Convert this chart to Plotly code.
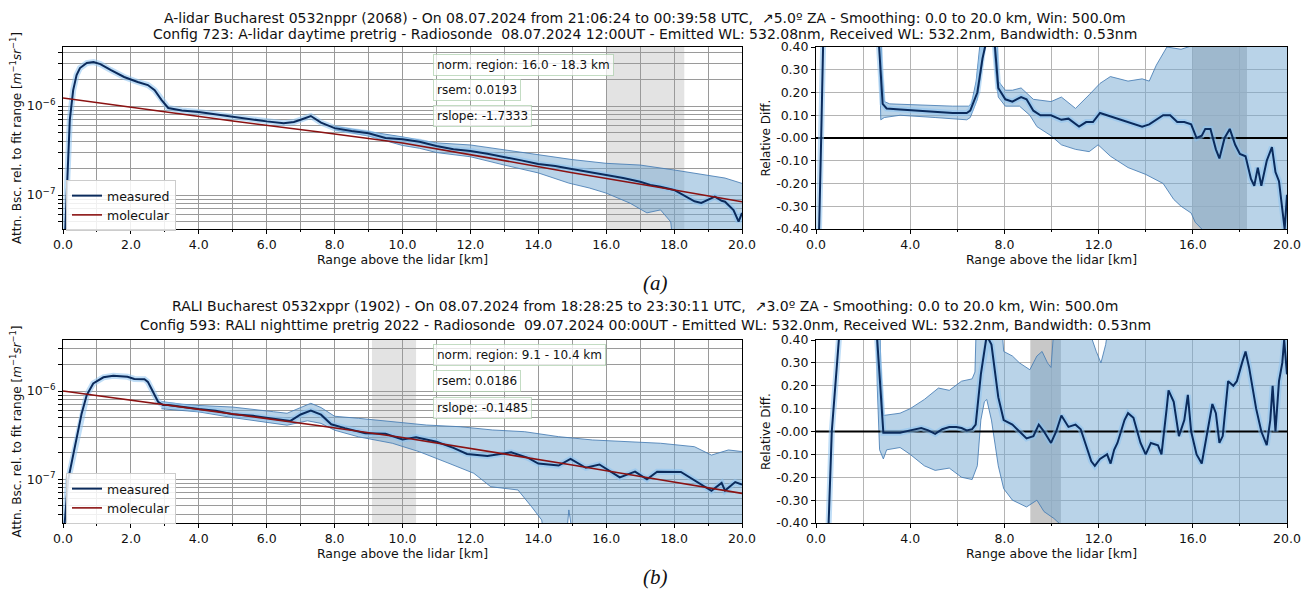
import plotly.graph_objects as go

# ---------------- data ----------------
# panel (a) left: attenuated backscatter [m-1 sr-1] vs range [km]
meas_a = [(0.0, 1.0e-8), (0.1, 8.8e-8), (0.2, 6.97e-7), (0.3, 1.51e-6), (0.4, 2.23e-6), (0.5, 2.67e-6),
          (0.7, 3.04e-6), (0.9, 3.12e-6), (1.1, 2.96e-6), (1.4, 2.54e-6), (1.8, 2.12e-6), (2.2, 1.86e-6),
          (2.5, 1.72e-6), (2.7, 1.51e-6), (2.9, 1.17e-6), (3.1, 9.5e-7), (3.5, 8.9e-7), (4.0, 8.55e-7),
          (5.0, 7.55e-7), (6.0, 6.72e-7), (6.5, 6.4e-7), (6.8, 6.6e-7), (7.0, 7.0e-7), (7.3, 7.72e-7),
          (7.6, 6.5e-7), (8.0, 5.64e-7), (8.5, 5.24e-7), (8.8, 5.1e-7), (9.0, 4.94e-7), (9.5, 4.37e-7),
          (10.0, 4.22e-7), (10.5, 3.97e-7), (11.0, 3.55e-7), (11.5, 3.26e-7), (12.0, 3.12e-7), (12.5, 2.9e-7),
          (13.0, 2.69e-7), (13.5, 2.45e-7), (14.0, 2.23e-7), (14.5, 2.12e-7), (14.9, 1.99e-7), (15.5, 1.83e-7),
          (16.0, 1.68e-7), (16.5, 1.55e-7), (17.0, 1.41e-7), (17.3, 1.30e-7), (17.6, 1.24e-7), (18.0, 1.14e-7),
          (18.4, 9.25e-8), (18.6, 8.5e-8), (18.8, 8.13e-8), (19.0, 8.8e-8), (19.2, 9.57e-8), (19.4, 8.6e-8),
          (19.5, 8.41e-8), (19.75, 6.78e-8), (19.9, 5.01e-8), (20.0, 6.28e-8)]
mol_a = [(0.0, 1.23e-6), (2.5, 9.12e-7), (5.0, 6.78e-7), (7.5, 5.13e-7), (10.0, 3.84e-7),
         (12.5, 2.63e-7), (15.0, 1.78e-7), (17.5, 1.23e-7), (20.0, 8.41e-8)]
band_up_a = [(8.0, 5.9e-7), (9.0, 5.2e-7), (10.0, 4.5e-7), (10.5, 4.15e-7), (11.0, 3.85e-7), (12.0, 3.65e-7),
             (13.0, 3.2e-7), (14.0, 2.81e-7), (15.0, 2.5e-7), (16.0, 2.27e-7), (17.0, 2.17e-7), (18.0, 1.91e-7),
             (19.0, 1.68e-7), (19.5, 1.55e-7), (20.0, 1.35e-7)]
band_lo_a = [(8.0, 5.4e-7), (9.0, 4.6e-7), (10.0, 3.6e-7), (10.5, 3.35e-7), (11.0, 3.0e-7), (12.0, 2.69e-7),
             (13.0, 2.17e-7), (14.0, 1.77e-7), (14.9, 1.36e-7), (15.5, 1.2e-7), (16.0, 1.05e-7), (16.7, 8.1e-8),
             (17.2, 6.3e-8), (17.6, 6.8e-8), (17.9, 5.0e-8), (18.1, 1.0e-8), (20.0, 1.0e-8)]

# panel (a) right: relative difference
rd_a = [(0.0, -1.0), (0.15, -0.40), (0.22, 0.0), (0.3, 0.40), (0.45, 1.5), (2.6, 1.5), (2.68, 0.40), (2.83, 0.15),
        (3.0, 0.13), (3.57, 0.125), (4.32, 0.12), (5.06, 0.113), (5.8, 0.11), (6.4, 0.11), (6.55, 0.12),
        (6.85, 0.20), (7.07, 0.35), (7.18, 0.40), (7.35, 0.6), (7.6, 0.40), (7.74, 0.22), (8.04, 0.17),
        (8.34, 0.16), (8.71, 0.18), (8.94, 0.17), (9.23, 0.12), (9.53, 0.10), (9.98, 0.10), (10.42, 0.08),
        (10.72, 0.085), (11.02, 0.06), (11.17, 0.05), (11.47, 0.07), (11.76, 0.07), (12.06, 0.11), (12.36, 0.10),
        (12.66, 0.09), (12.96, 0.08), (13.25, 0.07), (13.55, 0.06), (13.85, 0.05), (14.15, 0.06), (14.45, 0.08),
        (14.74, 0.10), (15.04, 0.10), (15.34, 0.07), (15.64, 0.07), (15.93, 0.06), (16.16, 0.0), (16.38, 0.01),
        (16.53, 0.04), (16.75, 0.04), (16.98, -0.05), (17.13, -0.09), (17.35, 0.0), (17.57, 0.04), (17.8, -0.03),
        (18.0, -0.07), (18.24, -0.08), (18.47, -0.18), (18.61, -0.21), (18.76, -0.13), (18.91, -0.21),
        (19.14, -0.10), (19.36, -0.04), (19.51, -0.15), (19.66, -0.19), (19.8, -0.30), (19.9, -0.40), (20.0, -0.25)]
rd_up_a = [(2.6, 1.5), (2.7, 1.0), (2.8, 0.30), (2.9, 0.16), (3.13, 0.15), (4.32, 0.145), (5.8, 0.14),
           (6.48, 0.14), (6.6, 0.15), (6.8, 0.25), (7.0, 0.45), (7.2, 1.0), (7.6, 1.0), (7.74, 0.25),
           (8.04, 0.21), (8.34, 0.21), (8.71, 0.22), (9.23, 0.17), (9.98, 0.16), (10.42, 0.18), (11.02, 0.13),
           (11.6, 0.19), (12.06, 0.24), (12.5, 0.27), (13.25, 0.25), (13.85, 0.26), (14.15, 0.25), (14.45, 0.32),
           (14.9, 0.40), (15.5, 0.39), (16.1, 0.41), (16.5, 0.6), (20.0, 1.0)]
rd_lo_a = [(2.6, 1.0), (2.7, 0.30), (2.75, 0.08), (2.9, 0.09), (3.57, 0.10), (5.06, 0.09), (6.4, 0.08),
           (6.55, 0.09), (6.85, 0.17), (7.07, 0.33), (7.25, 0.5), (7.5, 0.5), (7.62, 0.30), (7.74, 0.18),
           (8.04, 0.14), (8.64, 0.14), (9.08, 0.10), (9.38, 0.05), (9.98, 0.01), (10.42, -0.03), (11.02, -0.05),
           (11.6, -0.06), (11.98, -0.03), (12.5, -0.08), (13.25, -0.13), (14.0, -0.16), (14.74, -0.20),
           (15.19, -0.27), (15.5, -0.30), (15.93, -0.33), (16.1, -0.37), (16.38, -0.40), (16.6, -0.6), (20.0, -1.0)]

# panel (b) left
meas_b = [(0.0, 1.0e-8), (0.05, 3.2e-8), (0.15, 9.8e-8), (0.4, 2.79e-7), (0.55, 5.58e-7), (0.7, 9.0e-7),
          (0.89, 1.22e-6), (1.19, 1.43e-6), (1.48, 1.49e-6), (1.9, 1.45e-6), (2.1, 1.37e-6), (2.4, 1.36e-6),
          (2.5, 1.27e-6), (2.65, 9.8e-7), (2.8, 7.56e-7), (2.95, 6.94e-7), (3.1, 6.93e-7), (4.0, 6.24e-7),
          (4.5, 5.97e-7), (5.0, 5.47e-7), (5.6, 5.24e-7), (6.2, 4.85e-7), (6.7, 4.59e-7), (7.0, 5.42e-7),
          (7.3, 6.0e-7), (7.6, 5.4e-7), (7.9, 4.2e-7), (8.3, 3.8e-7), (8.9, 3.33e-7), (9.5, 3.28e-7),
          (10.0, 2.83e-7), (10.4, 3.0e-7), (11.0, 2.66e-7), (11.5, 2.27e-7), (11.9, 1.94e-7), (12.5, 1.84e-7),
          (13.2, 2.02e-7), (13.7, 1.75e-7), (14.0, 1.51e-7), (14.6, 1.43e-7), (14.95, 1.7e-7), (15.4, 1.35e-7),
          (15.8, 1.47e-7), (16.4, 1.05e-7), (16.85, 1.22e-7), (17.2, 1.0e-7), (17.5, 1.22e-7), (18.2, 1.21e-7),
          (18.7, 9.2e-8), (19.1, 7.4e-8), (19.4, 9.1e-8), (19.5, 7.45e-8), (19.8, 9.3e-8), (20.0, 8.7e-8)]
mol_b = [(0.0, 1.0e-6), (2.5, 7.45e-7), (5.0, 5.53e-7), (7.5, 4.07e-7), (10.0, 2.98e-7),
         (12.5, 2.09e-7), (15.0, 1.45e-7), (17.5, 1.0e-7), (20.0, 6.93e-8)]
band_up_b = [(2.9, 7.6e-7), (3.5, 7.1e-7), (4.0, 6.86e-7), (5.0, 6.58e-7), (6.2, 5.83e-7), (6.6, 5.6e-7),
             (7.0, 6.5e-7), (7.3, 7.26e-7), (7.6, 6.5e-7), (8.0, 5.18e-7), (8.7, 4.91e-7), (9.7, 4.49e-7),
             (10.7, 4.12e-7), (11.7, 3.94e-7), (12.65, 3.62e-7), (13.6, 3.46e-7), (14.6, 3.04e-7), (15.6, 2.79e-7),
             (16.6, 2.67e-7), (17.6, 2.56e-7), (18.6, 2.34e-7), (19.1, 1.88e-7), (19.6, 2.15e-7), (20.0, 2.06e-7)]
band_lo_b = [(2.9, 6.3e-7), (4.0, 5.8e-7), (5.0, 5.0e-7), (6.0, 4.4e-7), (6.6, 4.1e-7), (7.2, 4.6e-7),
             (7.6, 4.3e-7), (8.0, 3.6e-7), (8.7, 3.03e-7), (9.7, 2.56e-7), (10.5, 2.05e-7), (11.4, 1.5e-7),
             (12.1, 1.17e-7), (12.6, 8.24e-8), (13.4, 7.57e-8), (13.8, 4.9e-8), (14.1, 3.46e-8), (14.3, 1.0e-8),
             (14.75, 1.0e-8), (14.9, 4.5e-8), (15.15, 1.0e-8), (20.0, 1.0e-8)]

# panel (b) right
rd_b = [(0.0, -2.0), (0.52, -0.40), (0.67, 0.0), (0.97, 0.40), (1.2, 2.0), (2.4, 2.0), (2.6, 0.40), (2.86, -0.005),
        (3.57, -0.005), (4.0, 0.005), (4.47, 0.015), (4.77, 0.005), (5.06, -0.01), (5.36, 0.01), (5.66, 0.02),
        (5.96, 0.02), (6.18, 0.015), (6.4, 0.005), (6.63, 0.01), (6.78, 0.03), (7.0, 0.25), (7.22, 0.40),
        (7.3, 0.41), (7.45, 0.38), (7.74, 0.15), (7.97, 0.05), (8.34, 0.03), (8.64, 0.0), (8.94, -0.03),
        (9.23, -0.02), (9.46, 0.03), (9.68, 0.0), (9.98, -0.05), (10.2, 0.0), (10.42, 0.07), (10.72, 0.02),
        (11.02, 0.03), (11.24, 0.01), (11.47, -0.06), (11.69, -0.13), (11.84, -0.15), (12.06, -0.12),
        (12.36, -0.10), (12.51, -0.14), (12.66, -0.08), (12.8, -0.05), (13.1, 0.05), (13.25, 0.08), (13.48, 0.06),
        (13.63, 0.0), (13.78, -0.05), (14.0, -0.10), (14.22, -0.05), (14.52, -0.06), (14.67, -0.10), (14.89, 0.10),
        (14.97, 0.18), (15.19, 0.13), (15.41, -0.02), (15.64, 0.05), (15.79, 0.16), (15.93, 0.0), (16.16, -0.10),
        (16.38, -0.14), (16.6, -0.02), (16.83, 0.12), (16.98, 0.08), (17.13, -0.05), (17.27, -0.02), (17.5, 0.22),
        (17.72, 0.20), (17.87, 0.22), (18.09, 0.30), (18.24, 0.35), (18.39, 0.28), (18.54, 0.18), (18.69, 0.10),
        (18.91, 0.0), (19.14, -0.06), (19.29, 0.05), (19.39, 0.20), (19.51, 0.0), (19.66, 0.22), (19.8, 0.30),
        (19.88, 0.40), (20.0, 0.25)]
rd_up_b = [(2.45, 2.0), (2.6, 1.0), (2.75, 0.3), (2.86, 0.07), (3.57, 0.08), (4.0, 0.10), (4.6, 0.14), (5.2, 0.19),
           (5.66, 0.18), (6.18, 0.22), (6.63, 0.23), (6.75, 0.26), (6.8, 0.45), (7.9, 0.45), (7.97, 0.35),
           (8.34, 0.33), (8.64, 0.30), (9.08, 0.27), (9.38, 0.33), (9.6, 0.35), (9.83, 0.30), (9.98, 0.28),
           (10.1, 0.45), (11.7, 0.41), (11.9, 0.35), (12.1, 0.30), (12.3, 0.38), (12.4, 0.45), (20.0, 1.0)]
rd_lo_b = [(2.45, 1.5), (2.6, 0.2), (2.7, -0.08), (2.86, -0.12), (3.0, -0.08), (3.57, -0.07), (4.0, -0.10),
           (4.6, -0.15), (5.06, -0.17), (5.66, -0.16), (6.18, -0.20), (6.63, -0.21), (6.85, -0.15), (7.0, 0.05),
           (7.15, 0.13), (7.25, 0.14), (7.45, 0.05), (7.74, -0.15), (7.97, -0.25), (8.34, -0.30), (8.94, -0.33),
           (9.38, -0.30), (9.68, -0.35), (10.1, -0.38), (10.42, -0.41), (10.6, -0.6), (20.0, -1.0)]

norm_a = [16.0, 18.3]
norm_b = [9.1, 10.4]
zero_ref = [(0.0, 0.0), (20.0, 0.0)]

x_major_left = [0, 2, 4, 6, 8, 10, 12, 14, 16, 18, 20]
x_major_right = [0, 4, 8, 12, 16, 20]
rd_ticks = [-0.4, -0.3, -0.2, -0.1, 0.0, 0.1, 0.2, 0.3, 0.4]
rd_ticktext = ["-0.40", "-0.30", "-0.20", "-0.10", "-0.00", "0.10", "0.20", "0.30", "0.40"]
decades = [-8, -7, -6]
labelled_decades = [-7, -6]

titles_a = ["A-lidar Bucharest 0532nppr (2068) - On 08.07.2024 from 21:06:24 to 00:39:58 UTC,  \u21975.0\u00ba ZA - Smoothing: 0.0 to 20.0 km, Win: 500.0m",
            "Config 723: A-lidar daytime pretrig - Radiosonde  08.07.2024 12:00UT - Emitted WL: 532.08nm, Received WL: 532.2nm, Bandwidth: 0.53nm"]
titles_b = ["RALI Bucharest 0532xppr (1902) - On 08.07.2024 from 18:28:25 to 23:30:11 UTC,  \u21973.0\u00ba ZA - Smoothing: 0.0 to 20.0 km, Win: 500.0m",
            "Config 593: RALI nighttime pretrig 2022 - Radiosonde  09.07.2024 00:00UT - Emitted WL: 532.0nm, Received WL: 532.2nm, Bandwidth: 0.53nm"]
info_a = ["norm. region: 16.0 - 18.3 km", "rsem: 0.0193", "rslope: -1.7333"]
info_b = ["norm. region: 9.1 - 10.4 km", "rsem: 0.0186", "rslope: -0.1485"]

# ---------------- styling ----------------
W, H = 1310, 592
OFF = 8  # page body margin of the browser
FONT = "DejaVu Sans"
C_MEAS = "#0b2b5c"
C_GLOW = "rgba(140,195,240,0.55)"
C_MOL = "#8b1212"
C_FILL = "rgba(115,167,209,0.5)"
C_EDGE = "rgba(70,125,180,0.85)"


def px(p):
    return (p - OFF) / W


def py(p):
    return 1 - (p - OFF) / H


def xs(pairs):
    return [p[0] for p in pairs]


def ys(pairs):
    return [p[1] for p in pairs]


fig = go.Figure()


def add_band(up, lo, xa, ya):
    fig.add_trace(go.Scatter(x=xs(up) + xs(lo)[::-1], y=ys(up) + ys(lo)[::-1], fill="toself",
                             fillcolor=C_FILL, line=dict(width=0), mode="lines", showlegend=False,
                             hoverinfo="skip", xaxis=xa, yaxis=ya))
    for s in (up, lo):
        fig.add_trace(go.Scatter(x=xs(s), y=ys(s), mode="lines", line=dict(color=C_EDGE, width=1),
                                 showlegend=False, hoverinfo="skip", xaxis=xa, yaxis=ya))


def add_meas(s, xa, ya, legend=None):
    fig.add_trace(go.Scatter(x=xs(s), y=ys(s), mode="lines", line=dict(color=C_GLOW, width=6),
                             showlegend=False, hoverinfo="skip", xaxis=xa, yaxis=ya))
    fig.add_trace(go.Scatter(x=xs(s), y=ys(s), mode="lines", line=dict(color=C_MEAS, width=2),
                             name="measured", showlegend=legend is not None, legend=legend or "legend",
                             xaxis=xa, yaxis=ya))


# panel a left
add_band(band_up_a, band_lo_a, "x", "y")
add_meas(meas_a, "x", "y", "legend")
fig.add_trace(go.Scatter(x=xs(mol_a), y=ys(mol_a), mode="lines", line=dict(color=C_MOL, width=1.6),
                         name="molecular", legend="legend", xaxis="x", yaxis="y"))
# panel a right
add_band(rd_up_a, rd_lo_a, "x2", "y2")
fig.add_trace(go.Scatter(x=xs(zero_ref), y=ys(zero_ref), mode="lines", line=dict(color="black", width=1.8),
                         showlegend=False, xaxis="x2", yaxis="y2"))
add_meas(rd_a, "x2", "y2")
# panel b left
add_band(band_up_b, band_lo_b, "x3", "y3")
add_meas(meas_b, "x3", "y3", "legend2")
fig.add_trace(go.Scatter(x=xs(mol_b), y=ys(mol_b), mode="lines", line=dict(color=C_MOL, width=1.6),
                         name="molecular", legend="legend2", xaxis="x3", yaxis="y3"))
# panel b right
add_band(rd_up_b, rd_lo_b, "x4", "y4")
fig.add_trace(go.Scatter(x=xs(zero_ref), y=ys(zero_ref), mode="lines", line=dict(color="black", width=1.8),
                         showlegend=False, xaxis="x4", yaxis="y4"))
add_meas(rd_b, "x4", "y4")

# axes
tickfont = dict(family=FONT, size=12.5, color="#111")
xtitlefont = dict(family=FONT, size=12.5, color="#111")
ytitlefont = dict(family=FONT, size=12, color="#111")
log_vals = [k * 10.0 ** d for d in decades for k in range(1, 10)]
log_text = ["10<sup>\u2212%d</sup>" % (-d) if (k == 1 and d in labelled_decades) else ""
            for d in decades for k in range(1, 10)]

dom_left = [px(63), px(742)]
dom_right = [px(816), px(1287)]
dom_a = [py(229), py(47)]
dom_b = [py(523), py(340)]

common = dict(showline=True, linecolor="black", linewidth=1, mirror=True, ticks="outside",
              tickcolor="black", ticklen=4, automargin=False, zeroline=False, tickfont=tickfont)


def xaxis_cfg(dom, anchor, major, minor_dt, gridc):
    return dict(domain=dom, anchor=anchor, range=[0, 20], tickmode="array", tickvals=major,
                ticktext=["%.1f" % v for v in major], showgrid=True, gridcolor=gridc, gridwidth=1,
                minor=dict(tickmode="linear", tick0=0, dtick=minor_dt, ticks="outside", ticklen=2,
                           tickcolor="black", showgrid=True, gridcolor=gridc, gridwidth=1),
                title=dict(text="Range above the lidar [km]", font=xtitlefont, standoff=3), **common)


def ylog_cfg(dom, anchor, rng):
    return dict(domain=dom, anchor=anchor, type="log", range=rng, tickmode="array", tickvals=log_vals,
                ticktext=log_text, showgrid=True, gridcolor="#9a9a9a", gridwidth=1,
                title=dict(text="Attn. Bsc. rel. to fit range [<i>m</i><sup>\u22121</sup><i>sr</i><sup>\u22121</sup>]",
                           font=ytitlefont, standoff=2), **common)


def ylin_cfg(dom, anchor):
    return dict(domain=dom, anchor=anchor, range=[-0.4, 0.4], tickmode="array", tickvals=rd_ticks,
                ticktext=rd_ticktext, showgrid=True, gridcolor="#b4b4b4", gridwidth=1,
                title=dict(text="Relative Diff.", font=ytitlefont, standoff=2), **common)


legend_style = dict(xanchor="left", yanchor="top", bgcolor="rgba(255,255,255,0.85)",
                    bordercolor="#cccccc", borderwidth=1, font=dict(family=FONT, size=12.5, color="#111"),
                    itemwidth=30, tracegroupgap=0)

fig.update_layout(
    width=W, height=H, autosize=False, margin=dict(l=0, r=0, t=0, b=0),
    paper_bgcolor="white", plot_bgcolor="white", font=dict(family=FONT, color="#111"),
    xaxis=xaxis_cfg(dom_left, "y", x_major_left, 1, "#9a9a9a"),
    yaxis=ylog_cfg(dom_a, "x", [-7.382, -5.337]),
    xaxis2=xaxis_cfg(dom_right, "y2", x_major_right, 2, "#b4b4b4"),
    yaxis2=ylin_cfg(dom_a, "x2"),
    xaxis3=xaxis_cfg(dom_left, "y3", x_major_left, 1, "#9a9a9a"),
    yaxis3=ylog_cfg(dom_b, "x3", [-7.495, -5.422]),
    xaxis4=xaxis_cfg(dom_right, "y4", x_major_right, 2, "#b4b4b4"),
    yaxis4=ylin_cfg(dom_b, "x4"),
    legend=dict(x=px(66), y=py(180), **legend_style),
    legend2=dict(x=px(66), y=py(473), **legend_style),
)

# normalisation regions
for region, (xl, xr) in ((norm_a, ("x", "x2")), (norm_b, ("x3", "x4"))):
    fig.add_shape(type="rect", xref=xl, yref=xl.replace("x", "y") + " domain", x0=region[0], x1=region[1],
                  y0=0, y1=1, fillcolor="rgba(215,215,215,0.7)", line=dict(width=0), layer="below")
    fig.add_shape(type="rect", xref=xr, yref=xr.replace("x", "y") + " domain", x0=region[0], x1=region[1],
                  y0=0, y1=1, fillcolor="rgba(190,190,190,0.85)", line=dict(width=0), layer="below")

# titles (first line anchored at the very top of the figure so it is not clipped)
fig.add_annotation(text=titles_a[0], xref="paper", yref="paper", x=px(645), y=1.0, showarrow=False,
                   xanchor="center", yanchor="top", font=dict(family=FONT, size=14, color="#111"))
fig.add_annotation(text=titles_a[1], xref="paper", yref="paper", x=px(645), y=py(34), showarrow=False,
                   xanchor="center", yanchor="middle", font=dict(family=FONT, size=14, color="#111"))
for t, yp in zip(titles_b, (306, 325)):
    fig.add_annotation(text=t, xref="paper", yref="paper", x=px(645), y=py(yp), showarrow=False,
                       xanchor="center", yanchor="middle", font=dict(family=FONT, size=14, color="#111"))

# info boxes
for texts, ys_px in ((info_a, (65, 90, 116)), (info_b, (355, 381, 408))):
    for t, yp in zip(texts, ys_px):
        fig.add_annotation(text=t, xref="paper", yref="paper", x=px(433), y=py(yp), showarrow=False,
                           xanchor="left", yanchor="middle", bgcolor="rgba(255,255,255,0.75)",
                           bordercolor="rgba(170,205,170,0.7)", borderwidth=1, borderpad=3,
                           font=dict(family=FONT, size=12, color="#111"))

# captions
for t, yp in (("<i>(a)</i>", 283), ("<i>(b)</i>", 577)):
    fig.add_annotation(text=t, xref="paper", yref="paper", x=px(655), y=py(yp), showarrow=False,
                       xanchor="center", yanchor="middle",
                       font=dict(family="Liberation Serif", size=21, color="#111"))

fig.write_html("out.html")
